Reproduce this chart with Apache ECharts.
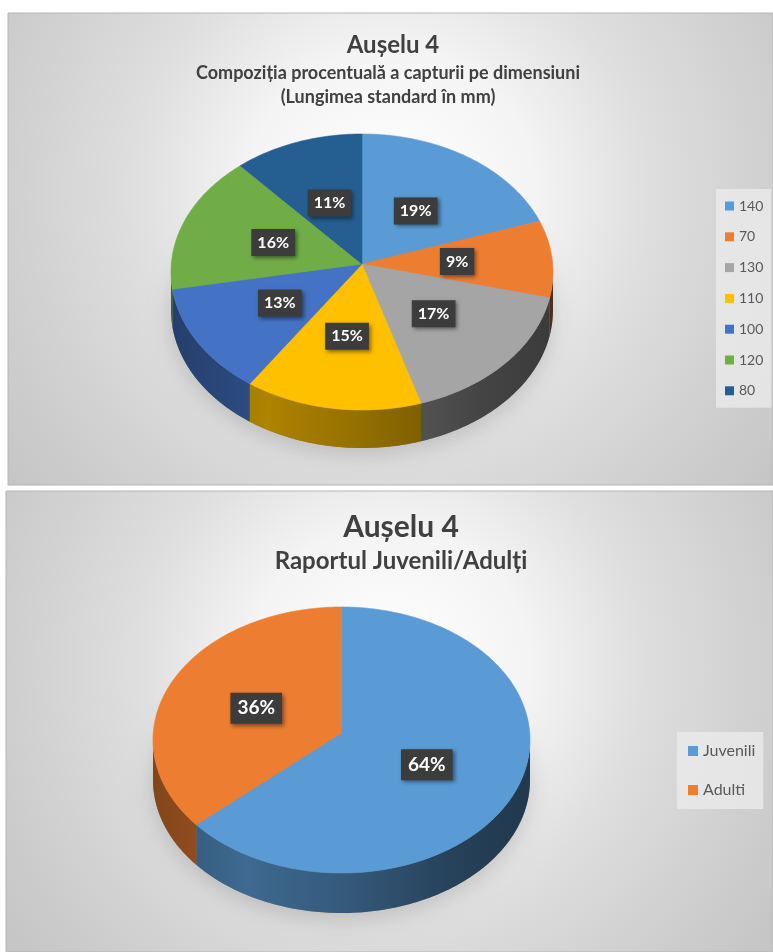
<!DOCTYPE html>
<html>
<head>
<meta charset="utf-8">
<title>Aușelu 4</title>
<script src="https://cdn.jsdelivr.net/npm/echarts@6/dist/echarts.min.js"></script>
<style>
  html, body { margin: 0; padding: 0; background: #ffffff; }
  #chart { width: 773px; height: 952px; }
</style>
</head>
<body>
<div id="chart"></div>
<script>
// Size classes (standard length, mm) and their share of the catch, in %
const sizeClasses = ['140', '70', '130', '110', '100', '120', '80'];
const sizeShares = [19, 9, 17, 15, 13, 16, 11];
// Juveniles / adults ratio, in %
const ageGroups = ['Juvenili', 'Adulti'];
const ageShares = [64, 36];

// Office-style palette
const sizeColors = ['#5B9BD5', '#ED7D31', '#A5A5A5', '#FFC000', '#4472C4', '#70AD47', '#255E91'];
const ageColors = ['#5B9BD5', '#ED7D31'];

const FONT = 'Lato, "Open Sans", sans-serif';
const rad = Math.PI / 180;

function shade(hex, f) {
  const n = parseInt(hex.slice(1), 16);
  const r = Math.round(((n >> 16) & 255) * f);
  const g = Math.round(((n >> 8) & 255) * f);
  const b = Math.round((n & 255) * f);
  return 'rgb(' + r + ',' + g + ',' + b + ')';
}

// Side wall shading, lit from the front-left
function wallFill(color, x0, x1) {
  return {
    type: 'linear', x: x0, y: 0, x2: x1, y2: 0, global: true,
    colorStops: [
      { offset: 0, color: shade(color, 0.55) },
      { offset: 0.25, color: shade(color, 0.68) },
      { offset: 0.5, color: shade(color, 0.58) },
      { offset: 0.8, color: shade(color, 0.42) },
      { offset: 1, color: shade(color, 0.36) }
    ]
  };
}

// One slice of a tilted pie: the grid's x/y axes span [-1, 1], so the unit
// circle maps onto the ellipse of the top face.
function renderSlice(params, api, o) {
  const start = api.value(0);
  const val = api.value(1);
  const a0 = 90 - start / o.total * 360;
  const a1 = 90 - (start + val) / o.total * 360;
  const rim = function (a) { return api.coord([Math.cos(a * rad), Math.sin(a * rad)]); };
  const arc = function (from, to) {
    const pts = [];
    const n = Math.max(2, Math.ceil(Math.abs(to - from)));
    for (let k = 0; k <= n; k++) pts.push(rim(from + (to - from) * k / n));
    return pts;
  };
  const apex = api.coord([0, o.lift]);
  const xl = api.coord([-1, 0])[0];
  const xr = api.coord([1, 0])[0];
  const children = [];

  if (o.first) {
    const base = arc(0, 360).map(function (p) { return [p[0], p[1] + o.depth]; });
    children.push({
      type: 'polygon', z2: 0, silent: true,
      shape: { points: base },
      style: { fill: 'rgba(0,0,0,0.3)', shadowBlur: 22, shadowColor: 'rgba(0,0,0,0.5)', shadowOffsetY: 6 }
    });
  }

  const lo = Math.max(a1, -180);
  const hi = Math.min(a0, 0);
  if (hi > lo) {
    const top = arc(lo, hi);
    const bottom = top.map(function (p) { return [p[0], p[1] + o.depth]; }).reverse();
    children.push({
      type: 'polygon', z2: 1,
      shape: { points: top.concat(bottom) },
      style: { fill: wallFill(o.color, xl, xr) }
    });
  }

  children.push({
    type: 'polygon', z2: 2,
    shape: { points: [apex].concat(arc(a0, a1)) },
    style: { fill: o.color, stroke: o.color, lineWidth: 0.6 }
  });

  const m = rim((a0 + a1) / 2);
  children.push({
    type: 'text', z2: 5,
    x: (apex[0] + m[0]) / 2,
    y: (apex[1] + m[1]) / 2,
    style: {
      text: val + '%',
      fill: '#ffffff',
      fontFamily: FONT,
      fontWeight: 'bold',
      fontSize: o.labelSize,
      align: 'center',
      verticalAlign: 'middle',
      backgroundColor: '#3c3c3c',
      padding: o.labelPad,
      shadowBlur: 4,
      shadowOffsetX: 2,
      shadowOffsetY: 2,
      shadowColor: 'rgba(0,0,0,0.45)'
    }
  });

  return { type: 'group', children: children };
}

function pieSeries(names, shares, colors, gi, look) {
  const total = shares.reduce(function (a, b) { return a + b; }, 0);
  let acc = 0;
  return names.map(function (name, i) {
    const start = acc;
    acc += shares[i];
    const o = Object.assign({ total: total, color: colors[i], first: i === 0 }, look);
    return {
      type: 'custom',
      name: name,
      xAxisIndex: gi,
      yAxisIndex: gi,
      animation: false,
      itemStyle: { color: colors[i] },
      data: [[start, shares[i]]],
      renderItem: function (params, api) { return renderSlice(params, api, o); }
    };
  });
}

function panelFill() {
  return {
    type: 'radial', x: 0.5, y: 0.38, r: 1.0,
    colorStops: [
      { offset: 0, color: '#ffffff' },
      { offset: 0.3, color: '#f4f4f4' },
      { offset: 0.55, color: '#dedede' },
      { offset: 0.8, color: '#d0d0d0' },
      { offset: 1, color: '#c6c6c6' }
    ]
  };
}

const titleColor = '#404040';

const option = {
  animation: false,
  grid: [
    { left: 171, top: 134, width: 382, height: 276 },
    { left: 153, top: 607, width: 377, height: 266 }
  ],
  xAxis: [
    { type: 'value', gridIndex: 0, min: -1, max: 1, show: false },
    { type: 'value', gridIndex: 1, min: -1, max: 1, show: false }
  ],
  yAxis: [
    { type: 'value', gridIndex: 0, min: -1, max: 1, show: false },
    { type: 'value', gridIndex: 1, min: -1, max: 1, show: false }
  ],
  legend: [
    {
      data: sizeClasses,
      orient: 'vertical',
      left: 716, top: 189,
      padding: [8, 8, 8, 9],
      itemWidth: 9, itemHeight: 9, itemGap: 12.8,
      icon: 'rect',
      selectedMode: false,
      backgroundColor: 'rgba(236,236,236,0.75)',
      textStyle: { color: '#595959', fontSize: 14, lineHeight: 18, fontFamily: FONT }
    },
    {
      data: ageGroups,
      orient: 'vertical',
      left: 677, top: 732,
      padding: [10, 8, 10, 11],
      itemWidth: 10, itemHeight: 10, itemGap: 21,
      icon: 'rect',
      selectedMode: false,
      backgroundColor: 'rgba(236,236,236,0.75)',
      textStyle: { color: '#595959', fontSize: 16, lineHeight: 18, fontFamily: FONT }
    }
  ],
  graphic: [
    { type: 'rect', z: -10, shape: { x: 8, y: 13, width: 765, height: 472 },
      style: { fill: panelFill(), stroke: '#b5b5b5', lineWidth: 1 } },
    { type: 'rect', z: -10, shape: { x: 6, y: 491, width: 767, height: 461 },
      style: { fill: panelFill(), stroke: '#b5b5b5', lineWidth: 1 } },
    { type: 'text', z: 10, x: 393, y: 45,
      style: { text: 'Aușelu 4', fill: titleColor, font: 'bold 24px ' + FONT, align: 'center', verticalAlign: 'middle' } },
    { type: 'text', z: 10, x: 388, y: 73,
      style: { text: 'Compoziția procentuală a capturii pe dimensiuni', fill: titleColor, font: 'bold 18px ' + FONT, align: 'center', verticalAlign: 'middle' } },
    { type: 'text', z: 10, x: 388, y: 97,
      style: { text: '(Lungimea standard în mm)', fill: titleColor, font: 'bold 18px ' + FONT, align: 'center', verticalAlign: 'middle' } },
    { type: 'text', z: 10, x: 401, y: 527,
      style: { text: 'Aușelu 4', fill: titleColor, font: 'bold 30px ' + FONT, align: 'center', verticalAlign: 'middle' } },
    { type: 'text', z: 10, x: 401, y: 561,
      style: { text: 'Raportul Juvenili/Adulți', fill: titleColor, font: 'bold 24px ' + FONT, align: 'center', verticalAlign: 'middle' } }
  ],
  series: pieSeries(sizeClasses, sizeShares, sizeColors, 0,
      { depth: 38, lift: 0.058, labelSize: 16, labelPad: [6, 6, 5, 6] })
    .concat(pieSeries(ageGroups, ageShares, ageColors, 1,
      { depth: 40, lift: 0.053, labelSize: 19, labelPad: [6, 7, 6, 7] }))
};

const chart = echarts.init(document.getElementById('chart'), null, { renderer: 'canvas' });
chart.setOption(option);
</script>
</body>
</html>
